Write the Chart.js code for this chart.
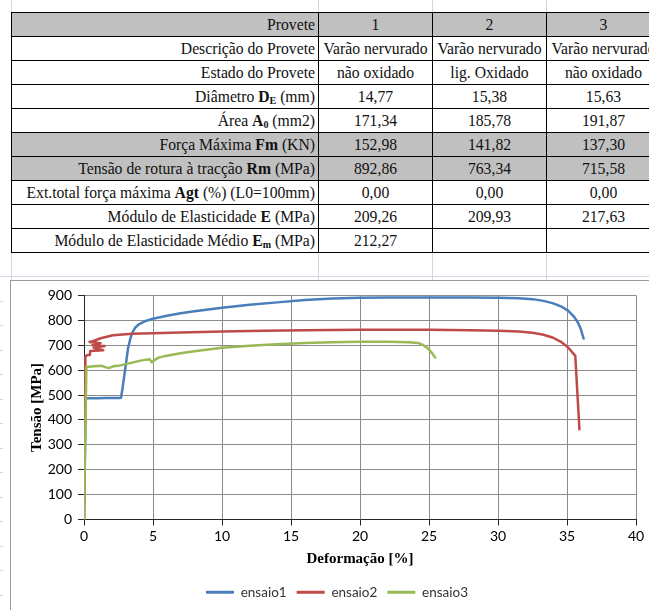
<!DOCTYPE html>
<html>
<head>
<meta charset="utf-8">
<script src="https://cdn.jsdelivr.net/npm/chart.js@4.4.1/dist/chart.umd.min.js"></script>
<style>
  html, body { margin: 0; padding: 0; width: 649px; height: 610px; overflow: hidden; background: #fff; }
  body { position: relative; }
  .gl { position: absolute; background: #d0d7e5; }
  #props {
    position: absolute; left: 11px; top: 12px;
    border-collapse: collapse; table-layout: fixed; width: 649px;
    font-family: "Liberation Serif", "Times New Roman", serif; font-size: 15.7px; color: #111;
  }
  #props td { border: 1px solid #000; padding: 0 3px; height: 23px; line-height: 16px; text-align: center; white-space: nowrap; overflow: hidden; }
  #props td.l { text-align: right; }
  #props tr.g td { background: #c0c0c0; }
  #props b { font-weight: bold; }
  #props sub { font-size: 10px; font-weight: bold; vertical-align: -2px; line-height: 0; }
  #chartBox {
    position: absolute; left: 10px; top: 280px; width: 700px; height: 340px;
    border: 1px solid #9a9a9a; background: #fff;
  }
  #chartBox canvas { position: absolute; left: 0; top: 0; }
</style>
</head>
<body>
<!-- worksheet cell grid around the table -->
<div class="gl" style="left:11px;top:0;width:1px;height:12px"></div>
<div class="gl" style="left:318px;top:0;width:1px;height:12px"></div>
<div class="gl" style="left:432px;top:0;width:1px;height:12px"></div>
<div class="gl" style="left:546px;top:0;width:1px;height:12px"></div>
<div class="gl" style="left:11px;top:252px;width:1px;height:28px"></div>
<div class="gl" style="left:318px;top:252px;width:1px;height:28px"></div>
<div class="gl" style="left:432px;top:252px;width:1px;height:28px"></div>
<div class="gl" style="left:546px;top:252px;width:1px;height:28px"></div>
<div class="gl" style="left:0;top:276px;width:649px;height:1px"></div>
<div id="stubs"></div>

<table id="props">
  <colgroup><col style="width:307px"><col style="width:114px"><col style="width:114px"><col style="width:114px"></colgroup>
  <tr class="g"><td class="l">Provete</td><td>1</td><td>2</td><td>3</td></tr>
  <tr><td class="l">Descrição do Provete</td><td>Varão nervurado</td><td>Varão nervurado</td><td>Varão nervurado</td></tr>
  <tr><td class="l">Estado do Provete</td><td>não oxidado</td><td>lig. Oxidado</td><td>não oxidado</td></tr>
  <tr><td class="l">Diâmetro <b>D</b><sub>E</sub> (mm)</td><td>14,77</td><td>15,38</td><td>15,63</td></tr>
  <tr><td class="l">Área <b>A</b><sub>0</sub> (mm2)</td><td>171,34</td><td>185,78</td><td>191,87</td></tr>
  <tr class="g"><td class="l">Força Máxima <b>Fm</b> (KN)</td><td>152,98</td><td>141,82</td><td>137,30</td></tr>
  <tr class="g"><td class="l">Tensão de rotura à tracção <b>Rm</b> (MPa)</td><td>892,86</td><td>763,34</td><td>715,58</td></tr>
  <tr><td class="l">Ext.total força máxima <b>Agt</b> (%) (L0=100mm)</td><td>0,00</td><td>0,00</td><td>0,00</td></tr>
  <tr><td class="l">Módulo de Elasticidade <b>E</b> (MPa)</td><td>209,26</td><td>209,93</td><td>217,63</td></tr>
  <tr><td class="l">Módulo de Elasticidade Médio <b>E</b><sub>m</sub> (MPa)</td><td>212,27</td><td></td><td></td></tr>
</table>

<div id="chartBox"><canvas id="curves" width="652" height="329"></canvas></div>

<script>
// Tensile test curves: deformation [%] vs stress [MPa]
const seriesNames = ['ensaio1', 'ensaio2', 'ensaio3'];
const seriesColors = ['#4a7ebb', '#be4b48', '#98b954'];
const xTitle = 'Deformação [%]';
const yTitle = 'Tensão [MPa]';
const xMin = 0, xMax = 40, xStep = 5;
const yMin = 0, yMax = 900, yStep = 100;

// ensaio1
const strain1 = [0, 0.13, 0.3, 1.0, 1.5, 2.0, 2.5, 2.68, 2.8, 2.9, 3.0, 3.1, 3.2, 3.35, 3.5, 3.7, 4.0, 4.4, 5.0, 6.0, 7.0, 8.0, 10.0, 12.0, 14.0, 16.0, 18.0, 20.0, 22.0, 24.0, 26.0, 28.0, 30.0, 31.5, 32.5, 33.3, 34.0, 34.6, 35.1, 35.5, 35.8, 36.0, 36.2];
const stress1 = [0, 487, 487, 487, 488, 488, 488, 489, 530, 570, 610, 650, 690, 725, 750, 770, 785, 796, 806, 818, 828, 836, 850, 862, 872, 882, 888, 891, 892, 892, 892, 892, 891, 889, 885, 878, 868, 855, 838, 815, 790, 765, 727];

// ensaio2
const strain2 = [0, 0.1, 0.25, 0.43, 0.45, 1.4, 0.7, 1.5, 0.6, 1.2, 0.4, 0.45, 1.2, 2.1, 3.5, 5.0, 7.0, 10.0, 13.0, 16.0, 20.0, 25.0, 28.0, 30.0, 31.5, 32.5, 33.3, 34.0, 34.6, 35.0, 35.3, 35.6, 35.9];
const stress2 = [0, 655, 661, 661, 677, 680, 690, 697, 700, 708, 714, 712, 728, 740, 746, 748, 751, 755, 758, 760, 762, 762, 760, 758, 755, 750, 742, 730, 712, 695, 677, 657, 362];

// ensaio3
const strain3 = [0, 0.17, 0.5, 1.0, 1.3, 1.6, 1.8, 2.1, 2.5, 3.0, 3.5, 4.0, 4.5, 4.75, 4.9, 5.1, 5.4, 6.0, 7.0, 8.0, 9.0, 10.0, 12.0, 14.0, 16.0, 18.0, 20.0, 22.0, 23.5, 24.2, 24.6, 24.9, 25.2, 25.45];
const stress3 = [0, 612, 614, 616, 617, 611, 608, 615, 617, 624, 630, 637, 642, 644, 632, 640, 650, 658, 668, 676, 683, 690, 698, 704, 709, 712, 714, 714, 712, 709, 700, 688, 670, 650];

const strains = [strain1, strain2, strain3];
const stresses = [stress1, stress2, stress3];

// faint worksheet row lines left of the chart frame
(function () {
  const host = document.getElementById('stubs');
  for (let y = 276; y < 610; y += 24.5) {
    const d = document.createElement('div');
    d.className = 'gl';
    d.style.cssText = 'left:0;width:3px;height:1px;top:' + Math.round(y) + 'px';
    host.appendChild(d);
  }
})();

const datasets = seriesNames.map((name, i) => ({
  label: name,
  data: strains[i].map((x, k) => ({ x: x, y: stresses[i][k] })),
  showLine: true,
  borderColor: seriesColors[i],
  backgroundColor: seriesColors[i],
  borderWidth: 2.5,
  borderCapStyle: 'round',
  borderJoinStyle: 'round',
  pointRadius: 0,
  tension: 0,
  order: 3 - i
}));

const tickFont = { family: 'Lato', size: 14 };
const titleFont = { family: 'Liberation Serif', size: 15, weight: 'bold' };

new Chart(document.getElementById('curves'), {
  type: 'scatter',
  data: { datasets: datasets },
  options: {
    responsive: false,
    animation: false,
    devicePixelRatio: 1,
    layout: { padding: { top: 13, right: 0, bottom: 1, left: 0 } },
    plugins: {
      tooltip: { enabled: false },
      legend: {
        position: 'bottom',
        labels: {
          boxWidth: 28,
          boxHeight: 3,
          padding: 10,
          color: '#333',
          font: { family: 'Lato', size: 13.5 },
          sort: (a, b) => a.datasetIndex - b.datasetIndex,
          generateLabels: (chart) =>
            Chart.defaults.plugins.legend.labels.generateLabels(chart).map(it => Object.assign(it, { lineWidth: 0 }))
        }
      }
    },
    scales: {
      x: {
        type: 'linear', min: xMin, max: xMax,
        ticks: { stepSize: xStep, padding: 3, color: '#000', font: tickFont },
        grid: { color: '#8c8c8c', tickColor: '#262626', tickLength: 6, lineWidth: 1 },
        border: { color: '#262626', width: 1 },
        title: { display: true, text: xTitle, color: '#000', font: titleFont, padding: { top: 0, bottom: 7 } },
        afterFit: (s) => { s.height = 56; }
      },
      y: {
        type: 'linear', min: yMin, max: yMax,
        ticks: { stepSize: yStep, padding: 6, color: '#000', font: tickFont },
        grid: { color: '#8c8c8c', tickColor: '#262626', tickLength: 6, lineWidth: 1 },
        border: { color: '#262626', width: 1 },
        title: { display: true, text: yTitle, color: '#000', font: titleFont, padding: { top: 17, bottom: 0 } },
        afterFit: (s) => { s.width = 73; }
      },
      yRight: {
        type: 'linear', position: 'right', min: yMin, max: yMax,
        grid: { display: false, drawTicks: false },
        ticks: { display: false },
        border: { display: false },
        afterFit: (s) => { s.width = 27; }
      }
    }
  }
});
</script>
</body>
</html>
